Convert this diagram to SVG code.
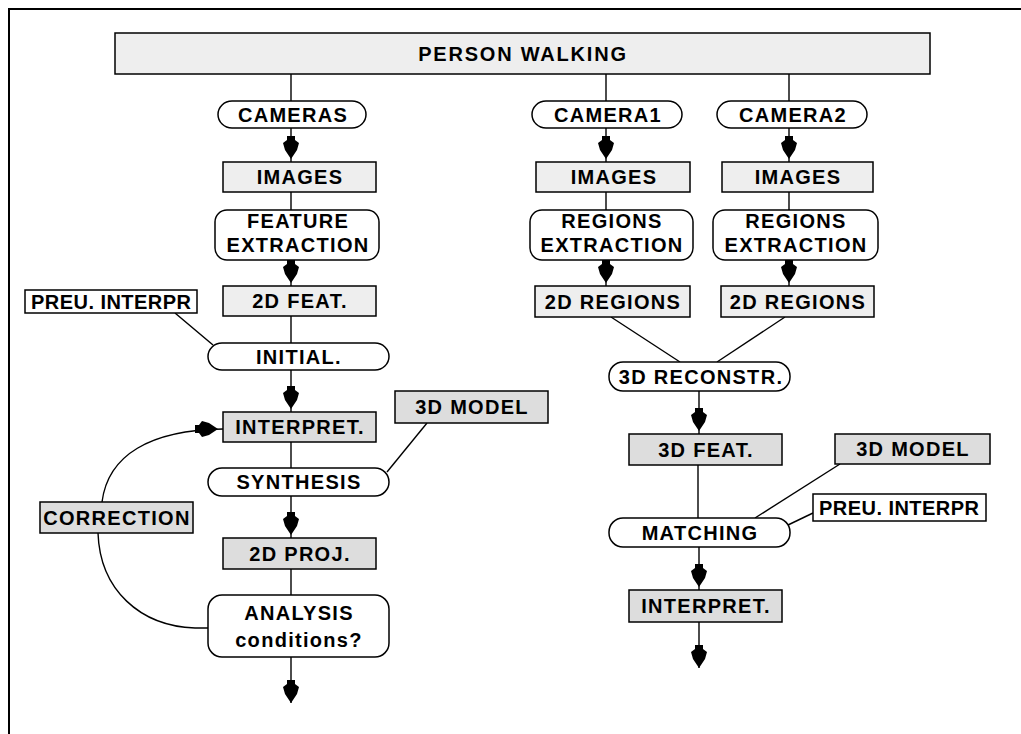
<svg xmlns="http://www.w3.org/2000/svg" xmlns:xlink="http://www.w3.org/1999/xlink" width="1021" height="734" viewBox="0 0 1021 734">
<style>
.b{stroke:#000;stroke-width:1.5}
.lt{fill:#eeeeee}
.dk{fill:#dddddd}
.wh{fill:#fff}
.t{font-family:"Liberation Sans",Arial,sans-serif;font-weight:bold;font-size:20px;letter-spacing:1.3px;text-anchor:middle;fill:#000}
.c line,.c path{stroke:#000;stroke-width:1.4;fill:none}
.ah{fill:#000}
</style>
<defs>
<path id="ah" d="M-4,-23 L4,-23 L4,-19 L8,-16 L6,-9 L2,-3 L0,0 L-2,-3 L-6,-9 L-8,-16 L-4,-19 Z"/>
</defs>
<rect width="1021" height="734" fill="#fff"/>
<rect x="9" y="9" width="1100" height="800" fill="none" stroke="#000" stroke-width="2"/>

<g class="c" id="connectors">
<line x1="291" y1="74" x2="291" y2="101"/>
<line x1="606" y1="74" x2="606" y2="101"/>
<line x1="789" y1="74" x2="789" y2="101"/>
<line x1="291" y1="128" x2="291" y2="162"/>
<line x1="606" y1="128" x2="606" y2="162"/>
<line x1="789" y1="128" x2="789" y2="162"/>
<line x1="291" y1="192" x2="291" y2="210"/>
<line x1="606" y1="192" x2="606" y2="210"/>
<line x1="789" y1="192" x2="789" y2="210"/>
<line x1="291" y1="260" x2="291" y2="286"/>
<line x1="606" y1="260" x2="606" y2="286"/>
<line x1="789" y1="260" x2="789" y2="286"/>
<line x1="291" y1="316" x2="291" y2="343"/>
<line x1="175" y1="313" x2="213" y2="345"/>
<line x1="291" y1="370" x2="291" y2="412"/>
<line x1="291" y1="442" x2="291" y2="468"/>
<line x1="427" y1="423" x2="387" y2="472"/>
<line x1="291" y1="496" x2="291" y2="538"/>
<line x1="291" y1="569" x2="291" y2="595"/>
<line x1="291" y1="657" x2="291" y2="703"/>
<path d="M208,628 L195,628 C140,626 100,590 98,533"/>
<path d="M102,502 C108,455 150,430 223,429"/>
<line x1="611" y1="317" x2="680" y2="362"/>
<line x1="785" y1="317" x2="717" y2="362"/>
<line x1="699" y1="391" x2="699" y2="434"/>
<line x1="698" y1="465" x2="698" y2="518"/>
<line x1="840" y1="464" x2="755" y2="518"/>
<line x1="813" y1="513" x2="788" y2="525"/>
<line x1="699" y1="547" x2="699" y2="590"/>
<line x1="699" y1="622" x2="699" y2="668"/>
<g class="ah">
<use xlink:href="#ah" x="291" y="159"/>
<use xlink:href="#ah" x="606" y="159"/>
<use xlink:href="#ah" x="789" y="159"/>
<use xlink:href="#ah" x="291" y="283"/>
<use xlink:href="#ah" x="606" y="283"/>
<use xlink:href="#ah" x="789" y="283"/>
<use xlink:href="#ah" x="291" y="409"/>
<use xlink:href="#ah" x="291" y="535"/>
<use xlink:href="#ah" x="291" y="703"/>
<use xlink:href="#ah" x="699" y="431"/>
<use xlink:href="#ah" x="699" y="587"/>
<use xlink:href="#ah" x="699" y="668"/>
<use xlink:href="#ah" transform="translate(218,429) rotate(-90)"/>
</g>
</g>

<g id="person-walking"><rect class="b lt" x="115" y="33" width="815" height="41"/><text class="t" x="523" y="61" style="letter-spacing:1.8px">PERSON WALKING</text></g>

<g id="cameras"><rect class="b wh" x="218" y="101" width="148" height="27" rx="14"/><text class="t" x="293" y="122">CAMERAS</text></g>
<g id="images-l"><rect class="b lt" x="223" y="162" width="153" height="30"/><text class="t" x="300" y="184">IMAGES</text></g>
<g id="feature-extraction"><rect class="b wh" x="215" y="210" width="164" height="50" rx="12"/><text class="t" x="298" y="228">FEATURE</text><text class="t" x="298" y="252">EXTRACTION</text></g>
<g id="feat2d"><rect class="b lt" x="223" y="286" width="153" height="30"/><text class="t" x="300" y="308">2D FEAT.</text></g>
<g id="prev-l"><rect class="b wh" x="25" y="290" width="172" height="23"/><text class="t" x="111" y="309" textLength="160" lengthAdjust="spacing" style="letter-spacing:0">PREU. INTERPR</text></g>
<g id="initial"><rect class="b wh" x="208" y="343" width="181" height="27" rx="14"/><text class="t" x="299" y="364">INITIAL.</text></g>
<g id="interpret-l"><rect class="b dk" x="223" y="412" width="153" height="30"/><text class="t" x="300" y="434">INTERPRET.</text></g>
<g id="model-l"><rect class="b dk" x="395" y="391" width="153" height="32"/><text class="t" x="472" y="414">3D MODEL</text></g>
<g id="synthesis"><rect class="b wh" x="208" y="468" width="181" height="28" rx="14"/><text class="t" x="299" y="489">SYNTHESIS</text></g>
<g id="correction"><rect class="b dk" x="40" y="502" width="153" height="31"/><text class="t" x="117" y="525">CORRECTION</text></g>
<g id="proj2d"><rect class="b dk" x="223" y="538" width="153" height="31"/><text class="t" x="300" y="561">2D PROJ.</text></g>
<g id="analysis"><rect class="b wh" x="208" y="595" width="181" height="62" rx="14"/><text class="t" x="299" y="620">ANALYSIS</text><text class="t" x="299" y="647">conditions?</text></g>

<g id="camera1"><rect class="b wh" x="532" y="101" width="150" height="27" rx="14"/><text class="t" x="608" y="122">CAMERA1</text></g>
<g id="camera2"><rect class="b wh" x="717" y="101" width="150" height="27" rx="14"/><text class="t" x="793" y="122">CAMERA2</text></g>
<g id="images-r1"><rect class="b lt" x="536" y="162" width="154" height="30"/><text class="t" x="614" y="184">IMAGES</text></g>
<g id="images-r2"><rect class="b lt" x="722" y="162" width="151" height="30"/><text class="t" x="798" y="184">IMAGES</text></g>
<g id="regions-ext1"><rect class="b wh" x="530" y="210" width="163" height="50" rx="12"/><text class="t" x="612" y="228">REGIONS</text><text class="t" x="612" y="252">EXTRACTION</text></g>
<g id="regions-ext2"><rect class="b wh" x="713" y="210" width="165" height="50" rx="12"/><text class="t" x="796" y="228">REGIONS</text><text class="t" x="796" y="252">EXTRACTION</text></g>
<g id="regions2d-1"><rect class="b lt" x="535" y="286" width="155" height="31"/><text class="t" x="613" y="309">2D REGIONS</text></g>
<g id="regions2d-2"><rect class="b lt" x="721" y="286" width="153" height="31"/><text class="t" x="798" y="309">2D REGIONS</text></g>
<g id="reconstr"><rect class="b wh" x="609" y="362" width="181" height="29" rx="14"/><text class="t" x="701" y="384">3D RECONSTR.</text></g>
<g id="feat3d"><rect class="b dk" x="629" y="434" width="153" height="31"/><text class="t" x="706" y="457">3D FEAT.</text></g>
<g id="model-r"><rect class="b dk" x="835" y="434" width="155" height="30"/><text class="t" x="913" y="456">3D MODEL</text></g>
<g id="prev-r"><rect class="b wh" x="813" y="494" width="173" height="27"/><text class="t" x="899" y="515" textLength="160" lengthAdjust="spacing" style="letter-spacing:0">PREU. INTERPR</text></g>
<g id="matching"><rect class="b wh" x="609" y="518" width="181" height="29" rx="14"/><text class="t" x="700" y="540">MATCHING</text></g>
<g id="interpret-r"><rect class="b dk" x="629" y="590" width="153" height="32"/><text class="t" x="706" y="613">INTERPRET.</text></g>
</svg>
